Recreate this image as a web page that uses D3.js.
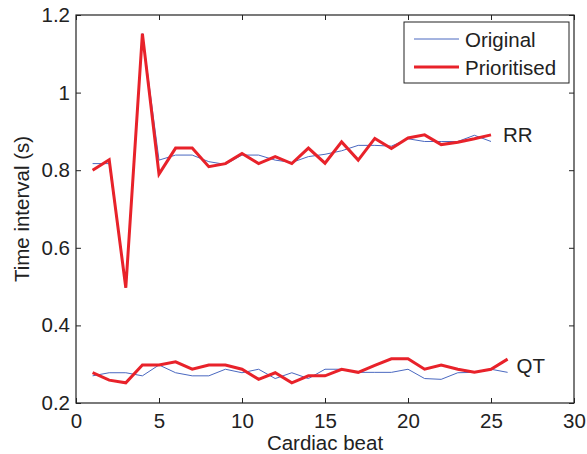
<!DOCTYPE html>
<html>
<head>
<meta charset="utf-8">
<script src="https://cdn.jsdelivr.net/npm/d3@7"></script>
<style>
  body { margin: 0; background: #fff; }
  text { font-family: "Liberation Sans", Arial, sans-serif; fill: #222; }
</style>
</head>
<body>
<svg id="chart"></svg>
<script>
let w = 587;
let h = 454;

// data
let rrOriginal = [0.817, 0.817, 0.497, 1.152, 0.826, 0.839, 0.839, 0.822, 0.815, 0.839, 0.839, 0.826, 0.82, 0.835, 0.841, 0.85, 0.864, 0.864, 0.862, 0.881, 0.874, 0.874, 0.874, 0.890, 0.874];
let rrPrioritised = [0.800, 0.827, 0.497, 1.152, 0.790, 0.857, 0.857, 0.809, 0.817, 0.843, 0.817, 0.835, 0.817, 0.857, 0.818, 0.873, 0.826, 0.882, 0.856, 0.883, 0.891, 0.866, 0.872, 0.881, 0.891];
let qtOriginal = [0.270, 0.278, 0.278, 0.270, 0.298, 0.278, 0.270, 0.270, 0.287, 0.278, 0.287, 0.263, 0.278, 0.263, 0.287, 0.287, 0.279, 0.279, 0.279, 0.287, 0.263, 0.261, 0.278, 0.279, 0.287, 0.279];
let qtPrioritised = [0.278, 0.259, 0.252, 0.298, 0.298, 0.306, 0.287, 0.298, 0.298, 0.287, 0.261, 0.278, 0.252, 0.270, 0.270, 0.287, 0.279, 0.297, 0.314, 0.314, 0.287, 0.298, 0.287, 0.279, 0.287, 0.313];
let xTicks = [0, 5, 10, 15, 20, 25, 30];
let yTicks = [0.2, 0.4, 0.6, 0.8, 1.0, 1.2];
let seriesNames = ["Original", "Prioritised"];

let blue = "#4a68c0";
let red = "#e8222a";
let fs = 20.5;

let margin = {left: 76, right: 13, top: 15, bottom: 51};

let svg = d3.select("#chart")
    .attr("width", w)
    .attr("height", h);

let xScale = d3.scaleLinear().domain([0, 30]).range([margin.left, w - margin.right]);
let yScale = d3.scaleLinear().domain([0.2, 1.2]).range([h - margin.bottom, margin.top]);

// box
svg.append("rect")
    .attr("x", xScale(0))
    .attr("y", yScale(1.2))
    .attr("width", xScale(30) - xScale(0))
    .attr("height", yScale(0.2) - yScale(1.2))
    .attr("fill", "none")
    .attr("stroke", "#222")
    .attr("stroke-width", 1.2);

// axes with inward ticks
let xAxis = d3.axisBottom(xScale).tickValues(xTicks).tickSize(-5).tickPadding(10).tickFormat(d3.format("d"));
let yAxis = d3.axisLeft(yScale).tickValues(yTicks).tickSize(-5).tickPadding(6).tickFormat(d => d === 1 ? "1" : d3.format(".1f")(d));

svg.append("g").attr("transform", `translate(0, ${yScale(0.2)})`).call(xAxis);
svg.append("g").attr("transform", `translate(${xScale(0)}, 0)`).call(yAxis);
svg.append("g").attr("transform", `translate(0, ${yScale(1.2)})`)
    .call(d3.axisTop(xScale).tickValues(xTicks).tickSize(-5).tickFormat(""));
svg.append("g").attr("transform", `translate(${xScale(30)}, 0)`)
    .call(d3.axisRight(yScale).tickValues(yTicks).tickSize(-5).tickFormat(""));

svg.selectAll(".domain").attr("stroke", "none");
svg.selectAll(".tick line").attr("stroke", "#222");
svg.selectAll(".tick text").attr("font-size", fs).attr("fill", "#222")
    .attr("font-family", "Liberation Sans, Arial, sans-serif");

// axis titles
svg.append("text")
    .attr("x", (xScale(0) + xScale(30)) / 2)
    .attr("y", 450)
    .attr("text-anchor", "middle")
    .attr("font-size", fs)
    .text("Cardiac beat");

svg.append("text")
    .attr("transform", `translate(29, ${(yScale(0.2) + yScale(1.2)) / 2}) rotate(-90)`)
    .attr("text-anchor", "middle")
    .attr("font-size", fs)
    .text("Time interval (s)");

// lines
let line = d3.line()
    .x((d, i) => xScale(i + 1))
    .y(d => yScale(d));

let drawLine = (data, color, width) => {
    svg.append("path")
        .datum(data)
        .attr("d", line)
        .attr("fill", "none")
        .attr("stroke", color)
        .attr("stroke-width", width)
        .attr("stroke-linejoin", "miter");
};

drawLine(rrOriginal, blue, 1);
drawLine(qtOriginal, blue, 1);
drawLine(rrPrioritised, red, 3);
drawLine(qtPrioritised, red, 3);

// RR / QT labels
svg.append("text")
    .attr("x", xScale(rrPrioritised.length) + 12)
    .attr("y", 142)
    .attr("font-size", fs)
    .text("RR");

svg.append("text")
    .attr("x", xScale(qtPrioritised.length) + 9)
    .attr("y", 372.5)
    .attr("font-size", fs)
    .text("QT");

// legend
let legend = svg.append("g").attr("transform", "translate(404, 22)");
legend.append("rect")
    .attr("width", 165)
    .attr("height", 61)
    .attr("fill", "#fff")
    .attr("stroke", "#222")
    .attr("stroke-width", 1);

let items = legend.selectAll("g.item")
    .data(seriesNames)
    .join("g")
    .attr("class", "item")
    .attr("transform", (d, i) => `translate(0, ${17 + i * 28})`);

items.append("line")
    .attr("x1", 10)
    .attr("x2", 55)
    .attr("stroke", (d, i) => i === 0 ? blue : red)
    .attr("stroke-width", (d, i) => i === 0 ? 1 : 3);

items.append("text")
    .attr("x", 61)
    .attr("y", 8)
    .attr("font-size", fs)
    .text(d => d);
</script>
</body>
</html>
